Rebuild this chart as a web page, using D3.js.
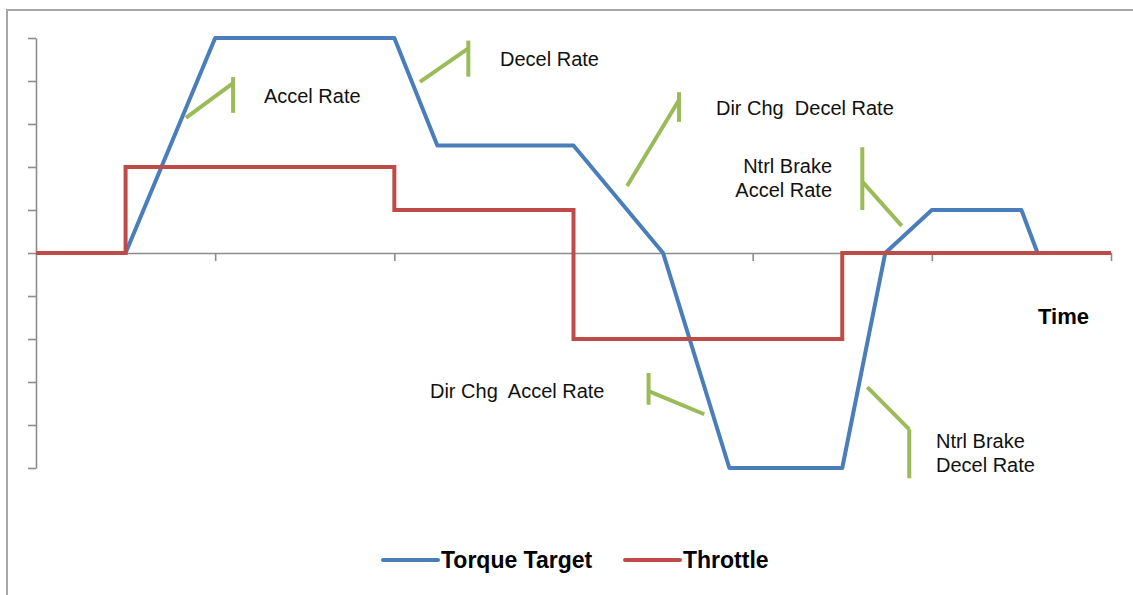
<!DOCTYPE html>
<html>
<head>
<meta charset="utf-8">
<script src="https://cdn.jsdelivr.net/npm/d3@7"></script>
<style>
  html, body { margin: 0; padding: 0; background: #fff; }
  svg { display: block; }
  text { font-family: "Liberation Sans", Arial, sans-serif; }
</style>
</head>
<body>
<svg id="chart" width="1133" height="595"></svg>
<script>
// ---- Data (time units, value units) ----
const torqueTime  = [0, 5, 10, 20, 22.4, 30, 35, 38.7, 45, 47.4, 50, 55, 55.9, 60];
const torqueValue = [0, 0, 5, 5, 2.5, 2.5, 0, -5, -5, 0, 1, 1, 0, 0];

const throttleTime  = [0, 5, 5, 20, 20, 30, 30, 45, 45, 60];
const throttleValue = [0, 0, 2, 2, 1, 1, -2, -2, 0, 0];

const xTicks = [0, 10, 20, 30, 40, 50, 60];
const yTicks = [-5, -4, -3, -2, -1, 0, 1, 2, 3, 4, 5];

const seriesNames = ["Torque Target", "Throttle"];
const seriesColors = ["#4a7ebb", "#be4b48"];

// Rate annotations: slanted pointer [x1,y1,x2,y2] and bar [x, yTop, yBottom]
const annSlant = [
  [8.37, 3.14, 11.0, 3.95],
  [21.43, 3.98, 24.13, 4.76],
  [32.99, 1.56, 35.89, 3.56],
  [46.12, 1.66, 48.32, 0.63],
  [34.19, -3.21, 37.30, -3.75],
  [46.40, -3.12, 48.74, -4.10]
];
const annBar = [
  [11.0, 4.09, 3.26],
  [24.13, 4.94, 4.10],
  [35.89, 3.74, 3.05],
  [46.12, 2.46, 1.0],
  [34.19, -2.79, -3.53],
  [48.74, -4.10, -5.24]
];
// labels: lines, x, baseline y, anchor
const annLabels = [
  {lines: ["Accel Rate"], x: 12.72, y: 3.49, anchor: "start"},
  {lines: ["Decel Rate"], x: 25.90, y: 4.35, anchor: "start"},
  {lines: ["Dir Chg  Decel Rate"], x: 37.95, y: 3.21, anchor: "start"},
  {lines: ["Ntrl Brake", "Accel Rate"], x: 44.43, y: 1.86, anchor: "end"},
  {lines: ["Dir Chg  Accel Rate"], x: 21.99, y: -3.37, anchor: "start"},
  {lines: ["Ntrl Brake", "Decel Rate"], x: 50.23, y: -4.53, anchor: "start"}
];
const axisTitle = {text: "Time", x: 55.93, y: -1.65};

// ---- Chart ----
const svg = d3.select("#chart");

// outer chart border
svg.append("rect")
  .attr("x", 7).attr("y", 10)
  .attr("width", 1140).attr("height", 600)
  .attr("fill", "#fff")
  .attr("stroke", "#a6a6a6").attr("stroke-width", 2);

const x = d3.scaleLinear().domain([0, 60]).range([36, 1111]);
const y = d3.scaleLinear().domain([-5, 5]).range([468, 38]);

const axisColor = "#8c8c8c";

const yAxis = svg.append("g")
  .attr("transform", `translate(${x(0)},0)`)
  .call(d3.axisLeft(y).tickValues(yTicks).tickSize(8).tickSizeOuter(0).tickFormat(""));
const xAxis = svg.append("g")
  .attr("transform", `translate(0,${y(0)})`)
  .call(d3.axisBottom(x).tickValues(xTicks.slice(1)).tickSize(8).tickSizeOuter(0).tickFormat(""));
[xAxis, yAxis].forEach(g => {
  g.selectAll("path").attr("stroke", axisColor).attr("stroke-width", 1.6);
  g.selectAll("line").attr("stroke", axisColor).attr("stroke-width", 1.6);
});

// annotations (green)
const green = "#9bbb59";
const annG = svg.append("g");
annSlant.forEach(s => {
  annG.append("line")
    .attr("x1", x(s[0])).attr("y1", y(s[1]))
    .attr("x2", x(s[2])).attr("y2", y(s[3]))
    .attr("stroke", green).attr("stroke-width", 4);
});
annBar.forEach(b => {
  annG.append("line")
    .attr("x1", x(b[0])).attr("y1", y(b[1]))
    .attr("x2", x(b[0])).attr("y2", y(b[2]))
    .attr("stroke", green).attr("stroke-width", 4);
});

// series
const line = d3.line().x(d => x(d[0])).y(d => y(d[1]));
const torque = torqueTime.map((t, i) => [t, torqueValue[i]]);
const throttle = throttleTime.map((t, i) => [t, throttleValue[i]]);

svg.append("path").datum(torque)
  .attr("d", line).attr("fill", "none")
  .attr("stroke", seriesColors[0]).attr("stroke-width", 4)
  .attr("stroke-linejoin", "round");
svg.append("path").datum(throttle)
  .attr("d", line).attr("fill", "none")
  .attr("stroke", seriesColors[1]).attr("stroke-width", 4)
  .attr("stroke-linejoin", "miter");

// labels
annLabels.forEach(l => {
  const t = svg.append("text")
    .attr("x", x(l.x)).attr("y", y(l.y))
    .attr("text-anchor", l.anchor)
    .attr("font-size", 20).attr("fill", "#111")
    .style("white-space", "pre");
  l.lines.forEach((s, i) => {
    t.append("tspan").attr("x", x(l.x)).attr("dy", i === 0 ? 0 : 24).text(s);
  });
});

svg.append("text")
  .attr("x", x(axisTitle.x)).attr("y", y(axisTitle.y))
  .attr("font-size", 22).attr("font-weight", "bold").attr("fill", "#000")
  .text(axisTitle.text);

// legend
const legend = svg.append("g");
const legendX = [383, 625];
seriesNames.forEach((name, i) => {
  legend.append("line")
    .attr("x1", legendX[i]).attr("x2", legendX[i] + 55)
    .attr("y1", 560).attr("y2", 560)
    .attr("stroke", seriesColors[i]).attr("stroke-width", 4)
    .attr("stroke-linecap", "round");
  legend.append("text")
    .attr("x", legendX[i] + 58).attr("y", 568)
    .attr("font-size", 23).attr("font-weight", "bold").attr("fill", "#000")
    .text(name);
});
</script>
</body>
</html>
